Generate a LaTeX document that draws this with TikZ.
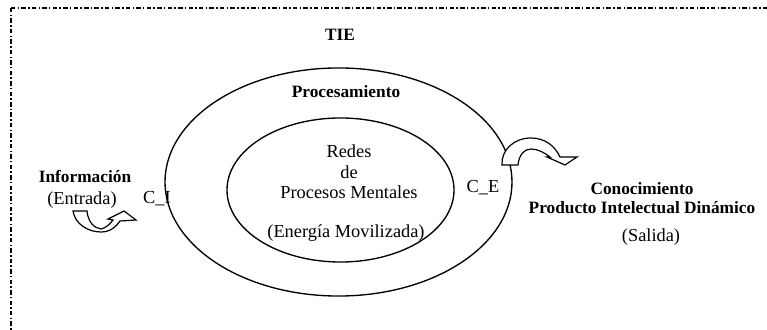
\documentclass[tikz,border=0pt]{standalone}
\usepackage{fontspec}
\setmainfont{Liberation Serif}
\usetikzlibrary{shapes.geometric}
\begin{document}
\begin{tikzpicture}[x=0.67pt,y=-0.67pt]
	\tikzstyle{ring}=[ellipse, draw=black, line width=0.9pt, inner sep=0pt]
	\tikzstyle{txt}=[font=\fontsize{12.3}{13.7}\selectfont, inner sep=0pt, align=center]
	\tikzstyle{btxt}=[font=\fontsize{11.6}{12.7}\selectfont\bfseries, inner sep=0pt, align=center]
	\tikzstyle{blockarrow}=[draw=black, line width=0.8pt, fill=white, line join=miter]
	\useasboundingbox (0,0) rectangle (767,330);
	\clip (0,0) rectangle (767,330);
	\draw[line width=1.1pt, dash pattern=on 3pt off 1.5pt on 1pt off 1.5pt] (11,8) rectangle (800,360);

	\node[ring, minimum width=232.5pt, minimum height=152.8pt] (procesamiento) at (338.5,182) {};
	\node[ring, minimum width=152.1pt, minimum height=96.5pt] (redes) at (340.5,190) {};

	\node[btxt] (tie) at (340,35) {TIE};
	\node[btxt] (proc) at (346,92) {Procesamiento};
	\node[txt] (mentales) at (349,172) {Redes\\de\\Procesos Mentales};
	\node[txt] (energia) at (346,233) {(Energía Movilizada)};
	\node[txt] (ci) at (157,199) {C\_I};
	\node[txt] (ce) at (483,188) {C\_E};
	\node[btxt] (info) at (85,176) {Información};
	\node[txt] (entrada) at (82,200) {(Entrada)};
	\node[btxt] (conoc) at (642,198.5) {Conocimiento\\Producto Intelectual Dinámico};
	\node[txt] (salida) at (651,237) {(Salida)};

	% curved block arrows
	\draw[blockarrow] (73,211) -- (87,211) .. controls (88,222) and (94,228) .. (101,229)
		.. controls (106,228) and (110,224) .. (113,220) -- (108,219) -- (124,211) -- (136,220)
		-- (120,221) .. controls (116,227) and (110,232) .. (101,232)
		.. controls (88,232) and (75,224) .. (73,211) -- cycle;
	\draw[blockarrow] (502,165) -- (518,165) .. controls (519,155) and (524,149) .. (531,149)
		.. controls (538,149) and (545,153) .. (550,157) -- (547,157) -- (565,165) -- (577,157)
		-- (560,157) .. controls (555,146) and (545,138) .. (531,138)
		.. controls (514,138) and (501,150) .. (502,165) -- cycle;
\end{tikzpicture}
\end{document}
